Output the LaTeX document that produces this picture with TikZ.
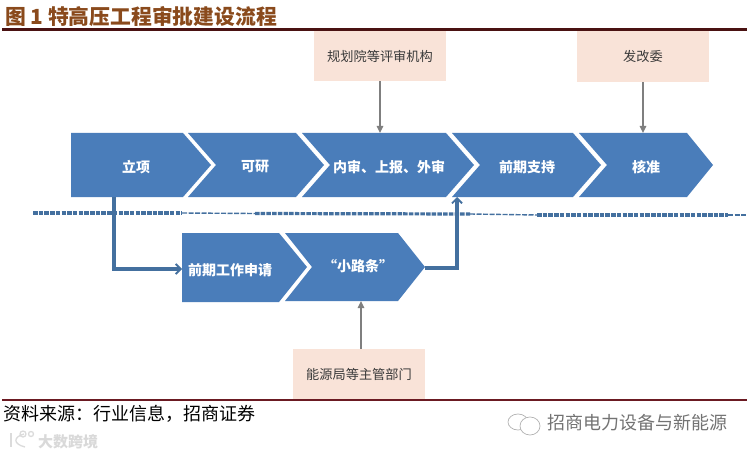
\documentclass[tikz,border=0pt]{standalone}
\usepackage{fontspec}
\newfontfamily\cjk{Noto Sans CJK SC}
\definecolor{chevblue}{HTML}{4A7DBA}
\definecolor{linkblue}{HTML}{44709F}
\definecolor{boxpeach}{HTML}{F9E3D8}
\definecolor{arrowgray}{HTML}{7F7F7F}
\definecolor{titlebrown}{HTML}{8A4A1C}
\definecolor{ruledark}{HTML}{4A1212}
\definecolor{rulered}{HTML}{6B1A22}
\definecolor{inktext}{HTML}{3A3A3A}
\usetikzlibrary{arrows.meta}
\tikzset{
  x=1pt,y=-1pt,
  chev/.style={fill=chevblue,draw=none},
  chevtext/.style={font=\cjk\bfseries\fontsize{14}{14}\selectfont,text=white,inner sep=0pt},
  peach/.style={fill=boxpeach,draw=none,minimum width=132pt,minimum height=50pt,inner sep=0pt,font=\cjk\fontsize{13.2}{14}\selectfont,text=inktext},
  grayarrow/.style={draw=arrowgray,line width=1.5pt,-{Triangle[length=7pt,width=6.5pt]}},
  bluelink/.style={draw=linkblue,line width=3.4pt,-{Straight Barb[length=5pt,width=10pt,line width=1.8pt]}},
  divthick/.style={draw=linkblue,line width=3.2pt,dash pattern=on 4.5pt off 1.2pt},
  divthin/.style={draw=linkblue,line width=1.4pt,dash pattern=on 5pt off 1.5pt},
  faintline/.style={draw=black!30,line width=0.7pt},
  logoline/.style={draw=black!14,line width=1.3pt},
}
\begin{document}
\begin{tikzpicture}
\useasboundingbox (0,0) rectangle (751,457);
\fill[white] (0,0) rectangle (751,457);
% rules
\coordinate (rt1) at (2,29.5); \coordinate (rt2) at (747,29.5);
\coordinate (rb1) at (2,400); \coordinate (rb2) at (747,400);
% title
\node[anchor=west,inner sep=0pt,text=titlebrown] (title) at (5,16)
  {\cjk\bfseries\fontsize{20.8}{21}\selectfont 图 1 特高压工程审批建设流程};
% boxes
\node[peach] (gh) at (380,56) {规划院等评审机构};
\node[peach,minimum height=51pt] (fg) at (643,56.5) {发改委};
\node[peach] (ny) at (359,374) {能源局等主管部门};
% main chevrons
\fill[chev] (71,133) -- (183,133) -- (211,165) -- (183,197) -- (71,197) -- cycle;
\fill[chev] (188,133) -- (296,133) -- (324,165) -- (296,197) -- (188,197) -- (216,165) -- cycle;
\fill[chev] (302,133) -- (446,133) -- (474,165) -- (446,197) -- (302,197) -- (330,165) -- cycle;
\fill[chev] (452,133) -- (573,133) -- (601,165) -- (573,197) -- (452,197) -- (480,165) -- cycle;
\fill[chev] (579,133) -- (687,133) -- (713,165) -- (687,197) -- (579,197) -- (607,165) -- cycle;
\node[chevtext] (s1) at (136,167) {立项};
\node[chevtext] (s2) at (255,167) {可研};
\node[chevtext] (s3) at (389,167) {内审、上报、外审};
\node[chevtext] (s4) at (527,167) {前期支持};
\node[chevtext] (s5) at (646,167) {核准};
% lower chevrons
\fill[chev] (182,233) -- (279,233) -- (307,267) -- (279,302) -- (182,302) -- cycle;
\fill[chev] (285,233) -- (398,233) -- (425,267) -- (398,301) -- (285,301) -- (312,267) -- cycle;
\node[chevtext] (l1) at (230,270) {前期工作申请};
\node[chevtext] (l2) at (358,266) {“小路条”};
% divider
\coordinate (d0) at (33,213); \coordinate (d1) at (182,213);
\coordinate (d2) at (255,213.5); \coordinate (d3) at (470,214);
\coordinate (d4) at (537,215); \coordinate (d5) at (728,215); \coordinate (d6) at (746,215);
\draw[divthick] (d0) -- (d1);
\draw[divthin] (d1) -- (d2);
\draw[divthick] (d2) -- (d3);
\draw[divthin] (d3) -- (d4);
\draw[divthick] (d4) -- (d5);
\draw[divthin] (d5) -- (d6);
% connectors
\coordinate (a1s) at (114,197); \coordinate (a1t) at (182,269);
\coordinate (a2s) at (425,268); \coordinate (a2t) at (457,197);
\draw[bluelink] (a1s) |- (a1t);
\draw[bluelink] (a2s) -| (a2t);
\coordinate (g1) at (380,133); \coordinate (g2) at (643,133); \coordinate (g3) at (361,301);
\draw[grayarrow] (gh.south -| g1) -- (g1);
\draw[grayarrow] (fg.south) -- (g2);
\draw[grayarrow] (ny.north -| g3) -- (g3);
% rules on top
\draw[ruledark,line width=2.2pt] (rt1) -- (rt2);
\draw[rulered,line width=2.2pt] (rb1) -- (rb2);
% source
\node[anchor=west,inner sep=0pt,text=black] (src) at (3,414)
  {\cjk\fontsize{18}{18}\selectfont 资料来源\symbol{"FF1A}行业信息\symbol{"FF0C}招商证券};
% WeChat mark and name
\draw[faintline] (518,422) ellipse (10pt and 8pt);
\draw[faintline,fill=white] (530,426) ellipse (10pt and 9pt);
\node[anchor=west,inner sep=0pt,text=black!55] (wm) at (547,423)
  {\cjk\fontsize{18}{18}\selectfont 招商电力设备与新能源};
% bottom-left watermark
\draw[logoline] (11,433) -- (11,447);
\draw[logoline] (24,434) .. controls (13,437) and (13,444) .. (25,447);
\draw[logoline] (23,434) circle (3pt);
\draw[logoline] (31,434) circle (2.5pt);
\node[anchor=west,inner sep=0pt,text=black!15] (wm2) at (38,442)
  {\cjk\bfseries\fontsize{15}{15}\selectfont 大数跨境};
\end{tikzpicture}
\end{document}
